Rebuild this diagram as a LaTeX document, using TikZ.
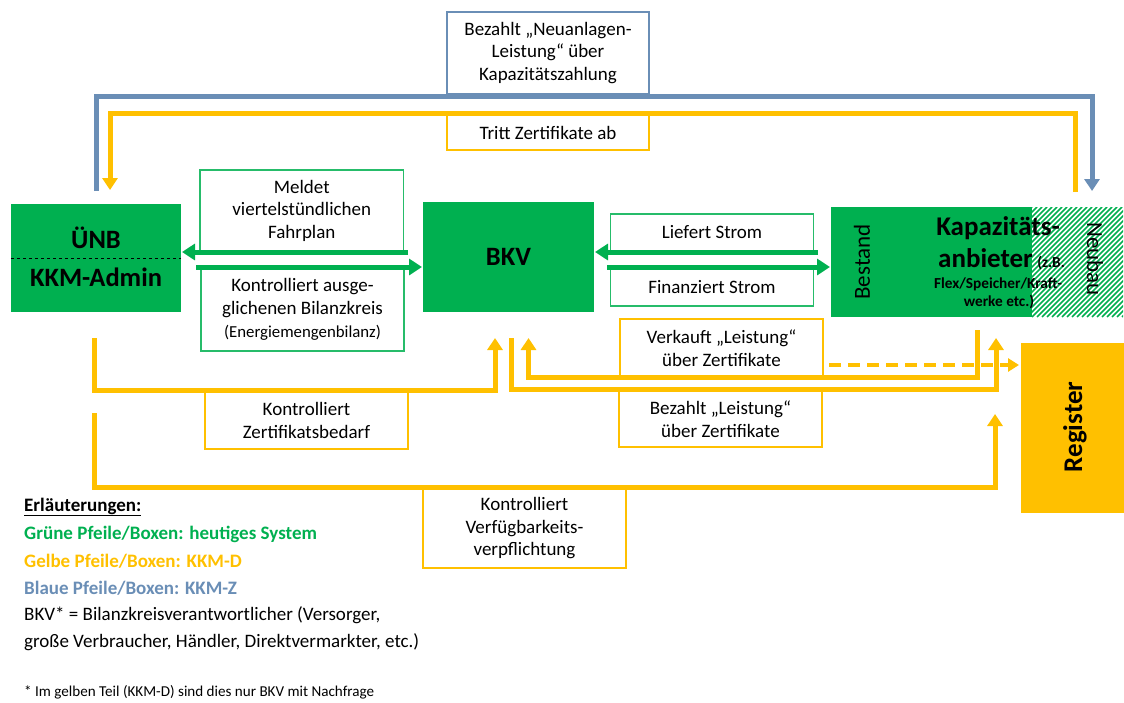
\documentclass[tikz,border=0pt]{standalone}
\usepackage{fontspec}
\setmainfont{Carlito}
\usetikzlibrary{arrows.meta}
\definecolor{kgreen}{RGB}{0,176,80}
\definecolor{kyellow}{RGB}{255,192,0}
\definecolor{kblue}{RGB}{106,142,182}
\newcommand{\kfs}[2]{\fontsize{#1}{#2}\selectfont}
\begin{document}
\begin{tikzpicture}[x=1pt,y=-1pt,
  lbl/.style={draw, line width=1.3pt, fill=white, align=center, inner sep=0pt, font=\kfs{19}{22.5}},
  glbl/.style={lbl, draw=kgreen!85},
  ylbl/.style={lbl, draw=kyellow},
  blbl/.style={lbl, draw=kblue},
  mainbox/.style={fill=kgreen, inner sep=0pt},
  bigtxt/.style={font=\bfseries\kfs{26.5}{30}, inner sep=0pt},
  thick line/.style={line width=5pt, line join=miter},
  yarr/.style={thick line, draw=kyellow, -{Triangle[length=12pt,width=15pt]}},
  barr/.style={thick line, draw=kblue, -{Triangle[length=12pt,width=15pt]}},
  garr/.style={thick line, draw=kgreen, -{Triangle[length=13pt,width=16pt]}},
  legend/.style={anchor=west, inner sep=0pt, font=\kfs{19}{22}}
]
\useasboundingbox (0,0) rectangle (1124,702);

% ---------- main boxes ----------
\node[mainbox, minimum width=170pt, minimum height=108pt] (uenb) at (96,258) {};
\draw[dashed, line width=1pt] (11,258) -- (181,258);
\node[bigtxt] (uenbtxt) at (96,238) {ÜNB};
\node[bigtxt] (admintxt) at (96,277) {KKM-Admin};

\node[mainbox, minimum width=171pt, minimum height=110pt] (bkv) at (508.5,257) {};
\node[bigtxt] (bkvtxt) at (508.5,257) {BKV};

% Kapazitaetsanbieter
\fill[kgreen] (831,207) rectangle (1032,317);
\begin{scope}
  \clip (1032,207) rectangle (1123,317);
  \foreach \i in {-130,-125,...,100} {
    \draw[kgreen, line width=1.7pt] (1032+\i,317) -- (1032+\i+110,207);
  }
\end{scope}
\node[font=\kfs{23}{26}, rotate=90, inner sep=0pt] (bestand) at (862,262) {Bestand};
\node[font=\kfs{23}{26}, rotate=-90, inner sep=0pt] (neubau) at (1095,259) {Neubau};
\node[font=\bfseries\kfs{27}{30}, inner sep=0pt] (kap1) at (998,228) {Kapazitäts-};
\node[font=\bfseries\kfs{27}{30}, inner sep=0pt, anchor=base west] (kap2) at (938,267) {anbieter\,{\kfs{15.3}{16}(z.B.}};
\node[font=\bfseries\kfs{15.3}{17}, inner sep=0pt] (kap3) at (998,284) {Flex/Speicher/Kraft-};
\node[font=\bfseries\kfs{15.3}{17}, inner sep=0pt] (kap4) at (999,302) {werke etc.)};

% Register
\node[fill=kyellow, minimum width=103pt, minimum height=170pt, inner sep=0pt] (reg) at (1072.5,428) {};
\node[font=\bfseries\kfs{27}{30}, rotate=90, inner sep=0pt] (regtxt) at (1075,427) {Register};

% ---------- label boxes ----------
\node[blbl, minimum width=202pt, minimum height=82pt] (lneu) at (548,53) {Bezahlt „Neuanlagen-\\Leistung“ über\\Kapazitätszahlung};
\node[ylbl, minimum width=202pt, minimum height=35pt] (ltritt) at (548,132.5) {Tritt Zertifikate ab};

\node[glbl, minimum width=203.5pt, minimum height=81.5pt] (lmeldet) at (301.75,210.75) {Meldet\\viertelstündlichen\\Fahrplan};
\node[glbl, minimum width=203pt, minimum height=83pt] (lkontr) at (302.5,309.5) {Kontrolliert ausge-\\glichenen Bilanzkreis\\[1pt]{\kfs{16.8}{20}(Energiemengenbilanz)}};
\node[glbl, minimum width=203pt, minimum height=37pt] (lliefert) at (712,232.5) {Liefert Strom};
\node[glbl, minimum width=203pt, minimum height=37pt] (lfin) at (712,287.5) {Finanziert Strom};

\node[ylbl, minimum width=203pt, minimum height=58pt] (lverk) at (721.5,348) {Verkauft „Leistung“\\über Zertifikate};
\node[ylbl, minimum width=203pt, minimum height=56pt] (lbez) at (720.5,419) {Bezahlt „Leistung“\\über Zertifikate};
\node[ylbl, minimum width=203pt, minimum height=57pt] (lzert) at (306.5,420.5) {Kontrolliert\\Zertifikatsbedarf};
\node[ylbl, minimum width=203pt, minimum height=79pt] (lverf) at (524.5,528.5) {Kontrolliert\\Verfügbarkeits-\\verpflichtung};

% ---------- coordinates ----------
\coordinate (b0) at (96,191);   \coordinate (b1) at (1092,191);
\coordinate (t0) at (1075.5,192); \coordinate (t1) at (110,190);
\coordinate (g1s) at (408,252); \coordinate (g1e) at (182,252);
\coordinate (g2s) at (196,267); \coordinate (g2e) at (422,267);
\coordinate (g3s) at (818,252); \coordinate (g3e) at (595,252);
\coordinate (g4s) at (607,267); \coordinate (g4e) at (830,267);
\coordinate (y1s) at (94,338);  \coordinate (y1e) at (495,338);
\coordinate (y2s) at (94,413);  \coordinate (y2e) at (995,414);
\coordinate (y3s) at (511,338); \coordinate (y3e) at (996,338);
\coordinate (y4s) at (977,330); \coordinate (y4e) at (528.5,338);
\coordinate (ds) at (829,365);  \coordinate (de) at (1019,365);

% ---------- connectors ----------
\draw[barr] (b0) -- (b0 |- 0,96) -- (b1 |- 0,96) -- (b1);
\draw[yarr] (t0) -- (t0 |- 0,113) -- (t1 |- 0,113) -- (t1);

\draw[garr] (g1s) -- (g1e);
\draw[garr] (g2s) -- (g2e);
\draw[garr] (g3s) -- (g3e);
\draw[garr] (g4s) -- (g4e);

\draw[yarr] (y1s) -- (y1s |- 0,390) -- (y1e |- 0,390) -- (y1e);
\draw[yarr] (y2s) -- (y2s |- 0,487) -- (y2e |- 0,487) -- (y2e);
\draw[yarr] (y3s) -- (y3s |- 0,389) -- (y3e |- 0,389) -- (y3e);
\draw[yarr] (y4s) -- (y4s |- 0,377) -- (y4e |- 0,377) -- (y4e);
\draw[kyellow, line width=3.5pt, dash pattern=on 12pt off 7pt, -{Triangle[length=11pt,width=13pt]}] (ds) -- (de);

% ---------- legend ----------
\node[legend, font=\bfseries\kfs{19}{22}] (leg0) at (24,507) {\underline{Erläuterungen:}};
\node[legend, font=\bfseries\kfs{19}{22}, text=kgreen] (leg1) at (24,534) {Grüne Pfeile/Boxen: heutiges System};
\node[legend, font=\bfseries\kfs{19}{22}, text=kyellow] (leg2) at (24,561) {Gelbe Pfeile/Boxen: KKM-D};
\node[legend, font=\bfseries\kfs{19}{22}, text=kblue] (leg3) at (24,588) {Blaue Pfeile/Boxen: KKM-Z};
\node[legend] (leg4) at (24,615) {BKV* = Bilanzkreisverantwortlicher (Versorger,};
\node[legend] (leg5) at (24,642) {große Verbraucher, Händler, Direktvermarkter, etc.)};
\node[legend, font=\kfs{15.1}{17}] (foot) at (24,692) {* Im gelben Teil (KKM-D) sind dies nur BKV mit Nachfrage};
\end{tikzpicture}
\end{document}
